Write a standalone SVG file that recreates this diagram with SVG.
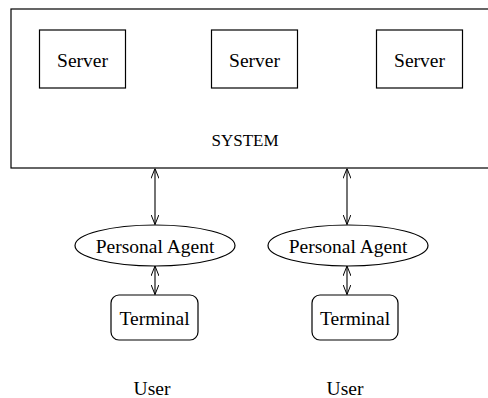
<svg xmlns="http://www.w3.org/2000/svg" width="488" height="398" viewBox="0 0 488 398">
  <style>
    .box { fill: #fff; stroke: #000; stroke-width: 1.2; }
    .lbl { font-family: "Liberation Serif", "Times New Roman", serif; font-size: 19.5px; fill: #000; text-anchor: middle; }
    .sys { font-family: "Liberation Serif", "Times New Roman", serif; font-size: 17px; fill: #000; text-anchor: middle; }
    .link { stroke: #000; stroke-width: 1.1; fill: none; marker-start: url(#head); marker-end: url(#head); }
  </style>
  <defs>
    <marker id="head" viewBox="0 0 10 8" refX="10" refY="4" markerWidth="10" markerHeight="8" markerUnits="userSpaceOnUse" orient="auto-start-reverse">
      <path d="M0,0 L10,4 L0,8" fill="none" stroke="#000" stroke-width="1"/>
    </marker>
  </defs>
  <rect width="488" height="398" fill="#fff"/>

  <g id="system">
    <rect class="box" x="11" y="9" width="490" height="159"/>
    <text class="sys" x="245" y="146">SYSTEM</text>
  </g>
  <g id="server1">
    <rect class="box" x="39.5" y="30" width="86" height="58"/>
    <text class="lbl" x="82.5" y="67">Server</text>
  </g>
  <g id="server2">
    <rect class="box" x="211.5" y="30" width="86" height="58"/>
    <text class="lbl" x="254.5" y="67">Server</text>
  </g>
  <g id="server3">
    <rect class="box" x="376.5" y="30" width="86" height="58"/>
    <text class="lbl" x="419.5" y="67">Server</text>
  </g>

  <g id="agent1">
    <ellipse class="box" cx="155" cy="245.5" rx="80" ry="20.5"/>
    <text class="lbl" x="155" y="253">Personal Agent</text>
  </g>
  <g id="agent2">
    <ellipse class="box" cx="348" cy="245.5" rx="80" ry="20.5"/>
    <text class="lbl" x="348" y="253">Personal Agent</text>
  </g>

  <g id="terminal1">
    <rect class="box" x="111" y="295" width="87" height="45" rx="8"/>
    <text class="lbl" x="154.5" y="325">Terminal</text>
  </g>
  <g id="terminal2">
    <rect class="box" x="312" y="295" width="86" height="45" rx="8"/>
    <text class="lbl" x="355" y="325">Terminal</text>
  </g>

  <g id="user1">
    <text class="lbl" x="152" y="395">User</text>
  </g>
  <g id="user2">
    <text class="lbl" x="345" y="395">User</text>
  </g>

  <g id="connectors">
    <line class="link" x1="155" y1="168.5" x2="155" y2="224.5"/>
    <line class="link" x1="347" y1="168.5" x2="347" y2="224.5"/>
    <line class="link" x1="155" y1="266" x2="155" y2="294.5"/>
    <line class="link" x1="347" y1="266" x2="347" y2="294.5"/>
  </g>
</svg>
